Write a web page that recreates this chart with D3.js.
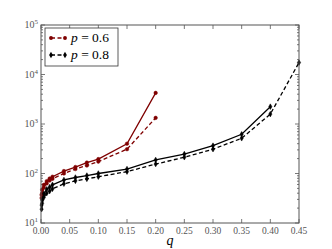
<!DOCTYPE html>
<html>
<head>
<meta charset="utf-8">
<script src="https://cdn.jsdelivr.net/npm/d3@7"></script>
<style>
  body { margin: 0; background: #fff; }
  text { font-family: "Liberation Serif", "DejaVu Serif", serif; }
</style>
</head>
<body>
<div id="chart"></div>
<script>
// data
var qRed = [0.001, 0.002, 0.005, 0.01, 0.015, 0.02, 0.04, 0.06, 0.08, 0.1, 0.15, 0.2];
var redSolid = [37, 47, 59, 70, 79, 86, 112, 135, 166, 195, 400, 4250];
var redDashed = [32, 40, 52, 63, 72, 78, 100, 123, 145, 174, 310, 1330];

var qBlackSolid = [0.001, 0.002, 0.005, 0.01, 0.015, 0.02, 0.04, 0.06, 0.08, 0.1, 0.15, 0.2, 0.25, 0.3, 0.35, 0.4];
var blackSolid = [23, 29, 39, 48, 53, 59, 74, 83, 91, 100, 123, 188, 247, 365, 620, 2240];
var qBlackDashed = [0.001, 0.002, 0.005, 0.01, 0.015, 0.02, 0.04, 0.06, 0.08, 0.1, 0.15, 0.2, 0.25, 0.3, 0.35, 0.4, 0.45];
var blackDashed = [19, 25, 33, 40, 44, 49, 62, 71, 78, 86, 109, 155, 213, 310, 515, 1585, 17400];

var xTicks = [0, 0.05, 0.1, 0.15, 0.2, 0.25, 0.3, 0.35, 0.4, 0.45];
var yTicks = [10, 100, 1000, 10000, 100000];
var legendLabels = ["0.6", "0.8"];

var svgWidth = 332, svgHeight = 249;
var margin = {top: 25, right: 33, bottom: 26, left: 41};
var chartWidth = svgWidth - margin.left - margin.right;
var chartHeight = svgHeight - margin.top - margin.bottom;

var red = "#7f0000";

var svg = d3.select("#chart").append("svg")
    .attr("width", svgWidth)
    .attr("height", svgHeight);

var chartGroup = svg.append("g")
    .attr("transform", `translate(${margin.left}, ${margin.top})`);

var xScale = d3.scaleLinear().domain([0, 0.45]).range([0, chartWidth]);
var yScale = d3.scaleLog().domain([10, 100000]).range([chartHeight, 0]);

// minor ticks for the log axis
var minorTicks = [];
for (var e = 1; e < 5; e++) {
  for (var m = 2; m < 10; m++) minorTicks.push(m * Math.pow(10, e));
}

var frameColor = "#555";

// ticks (inside, all four sides)
var ticks = chartGroup.append("g").attr("stroke", frameColor).attr("stroke-width", 0.8);
xTicks.forEach(function(t) {
  ticks.append("line").attr("x1", xScale(t)).attr("x2", xScale(t)).attr("y1", chartHeight).attr("y2", chartHeight - 4);
  ticks.append("line").attr("x1", xScale(t)).attr("x2", xScale(t)).attr("y1", 0).attr("y2", 4);
});
yTicks.forEach(function(t) {
  ticks.append("line").attr("x1", 0).attr("x2", 4).attr("y1", yScale(t)).attr("y2", yScale(t));
  ticks.append("line").attr("x1", chartWidth).attr("x2", chartWidth - 4).attr("y1", yScale(t)).attr("y2", yScale(t));
});
minorTicks.forEach(function(t) {
  ticks.append("line").attr("x1", 0).attr("x2", 2).attr("y1", yScale(t)).attr("y2", yScale(t));
  ticks.append("line").attr("x1", chartWidth).attr("x2", chartWidth - 2).attr("y1", yScale(t)).attr("y2", yScale(t));
});

// tick labels
chartGroup.selectAll(".xlab")
  .data(xTicks)
  .enter()
  .append("text")
  .attr("x", d => xScale(d))
  .attr("y", chartHeight + 11)
  .attr("text-anchor", "middle")
  .attr("font-size", 9.5)
  .attr("fill", "#555")
  .text(d => d.toFixed(2));

var ylab = chartGroup.selectAll(".ylab")
  .data(yTicks)
  .enter()
  .append("text")
  .attr("x", -3)
  .attr("y", d => yScale(d) + 3)
  .attr("text-anchor", "end")
  .attr("font-size", 10)
  .attr("fill", "#555");
ylab.append("tspan").text("10");
ylab.append("tspan")
  .attr("font-size", 7)
  .attr("dy", -4)
  .text(d => Math.round(Math.log10(d)));

chartGroup.append("text")
  .attr("x", xScale(0.225))
  .attr("y", chartHeight + 22)
  .attr("text-anchor", "middle")
  .attr("font-size", 14)
  .attr("font-style", "italic")
  .text("q");

// lines
var line = d3.line()
  .x(d => xScale(d[0]))
  .y(d => yScale(d[1]));

function drawSeries(qs, vals, color, dashed, marker) {
  var pts = qs.map((q, i) => [q, vals[i]]);
  chartGroup.append("path")
    .datum(pts)
    .attr("d", line)
    .attr("fill", "none")
    .attr("stroke", color)
    .attr("stroke-width", 1.3)
    .attr("stroke-dasharray", dashed ? "4,2.5" : null);
  chartGroup.selectAll(null)
    .data(pts)
    .enter()
    .append("path")
    .attr("transform", d => `translate(${xScale(d[0])},${yScale(d[1])})`)
    .attr("d", d3.symbol().type(marker).size(marker === d3.symbolCircle ? 10 : 9))
    .attr("fill", color)
    .attr("stroke", color)
    .attr("stroke-width", 0.5);
}

drawSeries(qRed, redSolid, red, false, d3.symbolCircle);
drawSeries(qRed, redDashed, red, true, d3.symbolCircle);
drawSeries(qBlackSolid, blackSolid, "#000", false, d3.symbolDiamond);
drawSeries(qBlackDashed, blackDashed, "#000", true, d3.symbolDiamond);

// frame
chartGroup.append("rect")
  .attr("width", chartWidth)
  .attr("height", chartHeight)
  .attr("fill", "none")
  .attr("stroke", frameColor)
  .attr("stroke-width", 1);

// legend
var legend = chartGroup.append("g").attr("transform", "translate(4,3)");
legend.append("rect")
  .attr("width", 73)
  .attr("height", 38)
  .attr("fill", "#fff")
  .attr("stroke", "#333")
  .attr("stroke-width", 0.8);

[[red, d3.symbolCircle], ["#000", d3.symbolDiamond]].forEach(function(s, i) {
  var yy = 10 + i * 17;
  legend.append("line")
    .attr("x1", 6).attr("x2", 20).attr("y1", yy).attr("y2", yy)
    .attr("stroke", s[0]).attr("stroke-width", 1.3).attr("stroke-dasharray", "4,2.5");
  [6, 20].forEach(function(xx) {
    legend.append("path")
      .attr("transform", `translate(${xx},${yy})`)
      .attr("d", d3.symbol().type(s[1]).size(12))
      .attr("fill", s[0]);
  });
  var t = legend.append("text")
    .attr("x", 26)
    .attr("y", yy + 4)
    .attr("font-size", 13.5);
  t.append("tspan").attr("font-style", "italic").text("p");
  t.append("tspan").text(" = " + legendLabels[i]);
});
</script>
</body>
</html>
